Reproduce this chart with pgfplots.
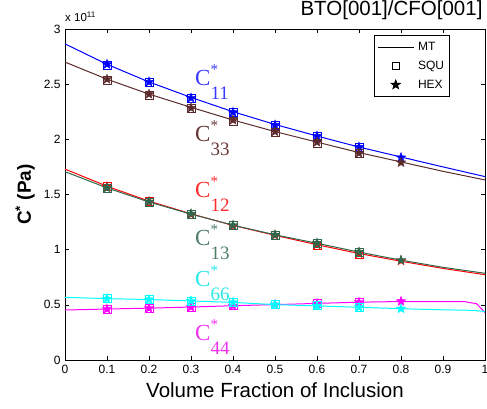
\documentclass[border=0pt]{standalone}
\usepackage{pgfplots}
\pgfplotsset{compat=1.18}
\usetikzlibrary{plotmarks}
\usepackage{fontspec}
\setmainfont{Liberation Sans}
\newfontfamily\serif{Liberation Serif}
\definecolor{cblue}{RGB}{0,0,255}
\definecolor{cbrown}{RGB}{92,42,42}
\definecolor{cred}{RGB}{255,0,0}
\definecolor{cgreen}{RGB}{48,104,78}
\definecolor{ccyan}{RGB}{0,255,255}
\definecolor{cmag}{RGB}{255,0,255}
\definecolor{lblue}{RGB}{60,60,255}
\definecolor{lbrown}{RGB}{105,55,55}
\definecolor{lred}{RGB}{255,45,45}
\definecolor{lgreen}{RGB}{78,128,104}
\definecolor{lcyan}{RGB}{40,232,232}
\definecolor{lmag}{RGB}{240,50,240}
\pgfdeclareplotmark{fstar}{%
  \pgfpathmoveto{\pgfpointpolar{90}{\pgfplotmarksize}}%
  \pgfpathlineto{\pgfpointpolar{126}{0.42\pgfplotmarksize}}%
  \pgfpathlineto{\pgfpointpolar{162}{\pgfplotmarksize}}%
  \pgfpathlineto{\pgfpointpolar{198}{0.42\pgfplotmarksize}}%
  \pgfpathlineto{\pgfpointpolar{234}{\pgfplotmarksize}}%
  \pgfpathlineto{\pgfpointpolar{270}{0.42\pgfplotmarksize}}%
  \pgfpathlineto{\pgfpointpolar{306}{\pgfplotmarksize}}%
  \pgfpathlineto{\pgfpointpolar{342}{0.42\pgfplotmarksize}}%
  \pgfpathlineto{\pgfpointpolar{18}{\pgfplotmarksize}}%
  \pgfpathlineto{\pgfpointpolar{54}{0.42\pgfplotmarksize}}%
  \pgfpathclose\pgfusepathqfillstroke}
\pgfplotsset{
  legline/.style={legend image code/.code={\draw[##1] (0pt,0pt) -- (36pt,0pt);}},
  legmark/.style={legend image code/.code={\draw[##1] plot coordinates {(18pt,0pt)};}},
}
\newcommand{\clab}[1]{{\serif\fontsize{23}{23}\selectfont C\rlap{\raisebox{11pt}{\fontsize{15}{15}\selectfont *}}\raisebox{-14pt}{\fontsize{19}{19}\selectfont #1}}}
\begin{document}
\begin{tikzpicture}
\begin{axis}[
  at={(65pt,49pt)}, anchor=south west,
  scale only axis, width=420pt, height=331pt,
  xmin=0, xmax=1, ymin=0, ymax=3,
  xtick={0,0.1,0.2,0.3,0.4,0.5,0.6,0.7,0.8,0.9,1},
  xticklabels={0,0.1,0.2,0.3,0.4,0.5,0.6,0.7,0.8,0.9,1},
  ytick={0,0.5,1,1.5,2,2.5,3},
  yticklabels={0,0.5,1,1.5,2,2.5,3},
  tick align=inside, major tick length=4pt,
  tick style={black, line width=0.6pt},
  axis line style={black, line width=0.8pt},
  ticklabel style={font=\fontsize{12}{12}\selectfont},
  xticklabel style={yshift=-2pt},
  yticklabel style={xshift=-1pt},
  /pgf/number format/assume math mode=true,
  xlabel={Volume Fraction of Inclusion},
  xlabel style={font=\fontsize{20.5}{20.5}\selectfont, at={(axis description cs:0.5,0)}, anchor=base, yshift=-38pt},
  ylabel={\textbf{C\textsuperscript{*} (Pa)}},
  ylabel style={font=\fontsize{19}{19}\selectfont, at={(axis description cs:-0.095,0.5)}, anchor=center},
  title={BTO[001]/CFO[001]},
  title style={font=\fontsize{20.5}{20.5}\selectfont, at={(axis description cs:1,1)}, anchor=base east, yshift=7.3pt, xshift=1pt},
  legend style={at={(axis description cs:0.736,0.982)}, anchor=north west, draw=black, line width=0.6pt,
    font=\fontsize{12}{12}\selectfont, inner xsep=3pt, inner ysep=5pt, row sep=5pt,
    cells={anchor=west}, /tikz/every odd column/.append style={column sep=2pt}},
  clip=false,
]
% legend entries
\addlegendimage{black, line width=0.6pt, legline}
\addlegendentry{MT}
\addlegendimage{black, only marks, mark=square, mark size=3.5pt, line width=0.6pt, legmark}
\addlegendentry{SQU}
\addlegendimage{black, only marks, mark=fstar, mark size=5pt, mark options={fill=black}, legmark}
\addlegendentry{HEX}

% C11
\addplot[cblue, line width=1pt, forget plot] coordinates {(0,2.865)(0.1,2.68)(0.2,2.52)(0.3,2.38)(0.4,2.25)(0.5,2.135)(0.6,2.03)(0.7,1.93)(0.8,1.84)(0.9,1.75)(1.0,1.662)};
\addplot[cblue, only marks, mark=square, mark size=4pt, line width=1pt, forget plot] coordinates {(0.1,2.67)(0.2,2.515)(0.3,2.37)(0.4,2.24)(0.5,2.125)(0.6,2.025)(0.7,1.925)};
\addplot[cblue, only marks, mark=fstar, mark size=5pt, mark options={fill=cblue}, forget plot] coordinates {(0.1,2.68)(0.2,2.52)(0.3,2.375)(0.4,2.245)(0.5,2.13)(0.6,2.03)(0.7,1.93)(0.8,1.835)};
% C33
\addplot[cbrown, line width=1pt, forget plot] coordinates {(0,2.70)(0.1,2.545)(0.2,2.41)(0.3,2.29)(0.4,2.175)(0.5,2.07)(0.6,1.975)(0.7,1.88)(0.8,1.795)(0.9,1.71)(1.0,1.632)};
\addplot[cbrown, only marks, mark=square, mark size=4pt, line width=1pt, forget plot] coordinates {(0.1,2.535)(0.2,2.40)(0.3,2.275)(0.4,2.165)(0.5,2.06)(0.6,1.965)(0.7,1.87)};
\addplot[cbrown, only marks, mark=fstar, mark size=5pt, mark options={fill=cbrown}, forget plot] coordinates {(0.1,2.545)(0.2,2.41)(0.3,2.285)(0.4,2.175)(0.5,2.07)(0.6,1.975)(0.7,1.875)(0.8,1.79)};
% C12
\addplot[cred, line width=1pt, forget plot] coordinates {(0,1.73)(0.1,1.575)(0.2,1.44)(0.3,1.325)(0.4,1.22)(0.5,1.13)(0.6,1.045)(0.7,0.965)(0.8,0.895)(0.9,0.83)(1.0,0.773)};
\addplot[cred, only marks, mark=square, mark size=4pt, line width=1pt, forget plot] coordinates {(0.1,1.575)(0.2,1.44)(0.3,1.32)(0.4,1.215)(0.5,1.125)(0.6,1.04)(0.7,0.955)};
\addplot[cred, only marks, mark=fstar, mark size=5pt, mark options={fill=cred}, forget plot] coordinates {(0.1,1.57)(0.2,1.435)(0.3,1.32)(0.4,1.215)(0.5,1.13)(0.6,1.045)(0.7,0.965)(0.8,0.9)};
% C13
\addplot[cgreen, line width=1pt, forget plot] coordinates {(0,1.707)(0.1,1.56)(0.2,1.432)(0.3,1.322)(0.4,1.222)(0.5,1.135)(0.6,1.058)(0.7,0.978)(0.8,0.905)(0.9,0.84)(1.0,0.786)};
\addplot[cgreen, only marks, mark=square, mark size=4pt, line width=1pt, forget plot] coordinates {(0.1,1.555)(0.2,1.43)(0.3,1.32)(0.4,1.22)(0.5,1.13)(0.6,1.055)(0.7,0.975)};
\addplot[cgreen, only marks, mark=fstar, mark size=5pt, mark options={fill=cgreen}, forget plot] coordinates {(0.1,1.56)(0.2,1.435)(0.3,1.325)(0.4,1.222)(0.5,1.135)(0.6,1.06)(0.7,0.98)(0.8,0.905)};
% C44
\addplot[cmag, line width=1pt, forget plot] coordinates {(0,0.453)(0.1,0.462)(0.2,0.47)(0.3,0.48)(0.4,0.492)(0.5,0.502)(0.6,0.513)(0.7,0.524)(0.8,0.53)(0.9,0.53)(0.95,0.53)(0.98,0.51)(1.0,0.43)};
\addplot[cmag, only marks, mark=square, mark size=4pt, line width=1pt, forget plot] coordinates {(0.1,0.462)(0.2,0.47)(0.3,0.48)(0.4,0.49)(0.5,0.5)(0.6,0.512)(0.7,0.525)};
\addplot[cmag, only marks, mark=fstar, mark size=5pt, mark options={fill=cmag}, forget plot] coordinates {(0.1,0.462)(0.2,0.47)(0.3,0.48)(0.4,0.492)(0.5,0.502)(0.6,0.513)(0.7,0.524)(0.8,0.532)};
% C66
\addplot[ccyan, line width=1pt, forget plot] coordinates {(0,0.568)(0.1,0.556)(0.2,0.548)(0.3,0.535)(0.4,0.522)(0.5,0.502)(0.6,0.49)(0.7,0.478)(0.8,0.465)(0.9,0.455)(0.97,0.45)(1.0,0.44)};
\addplot[ccyan, only marks, mark=square, mark size=4pt, line width=1pt, forget plot] coordinates {(0.1,0.555)(0.2,0.548)(0.3,0.533)(0.4,0.52)(0.5,0.5)(0.6,0.49)(0.7,0.48)};
\addplot[ccyan, only marks, mark=fstar, mark size=5pt, mark options={fill=ccyan}, forget plot] coordinates {(0.1,0.556)(0.2,0.548)(0.3,0.535)(0.4,0.522)(0.5,0.502)(0.6,0.49)(0.7,0.478)(0.8,0.465)};

% annotations
\node[anchor=base west, text=lblue, inner sep=0pt] at (axis cs:0.3095,2.492) {\clab{11}};
\node[anchor=base west, text=lbrown, inner sep=0pt] at (axis cs:0.3095,1.976) {\clab{33}};
\node[anchor=base west, text=lred, inner sep=0pt] at (axis cs:0.3095,1.477) {\clab{12}};
\node[anchor=base west, text=lgreen, inner sep=0pt] at (axis cs:0.3095,1.042) {\clab{13}};
\node[anchor=base west, text=lcyan, inner sep=0pt] at (axis cs:0.3095,0.662) {\clab{66}};
\node[anchor=base west, text=lmag, inner sep=0pt] at (axis cs:0.3095,0.181) {\clab{44}};
% scale factor
\node[anchor=base west, inner sep=0pt, font=\fontsize{11.5}{11.5}\selectfont] at (axis description cs:0,1) [yshift=7pt] {x 10\textsuperscript{11}};
\end{axis}
\pgfresetboundingbox
\useasboundingbox (0pt,0pt) rectangle (487pt,409pt);
\end{tikzpicture}
\end{document}
